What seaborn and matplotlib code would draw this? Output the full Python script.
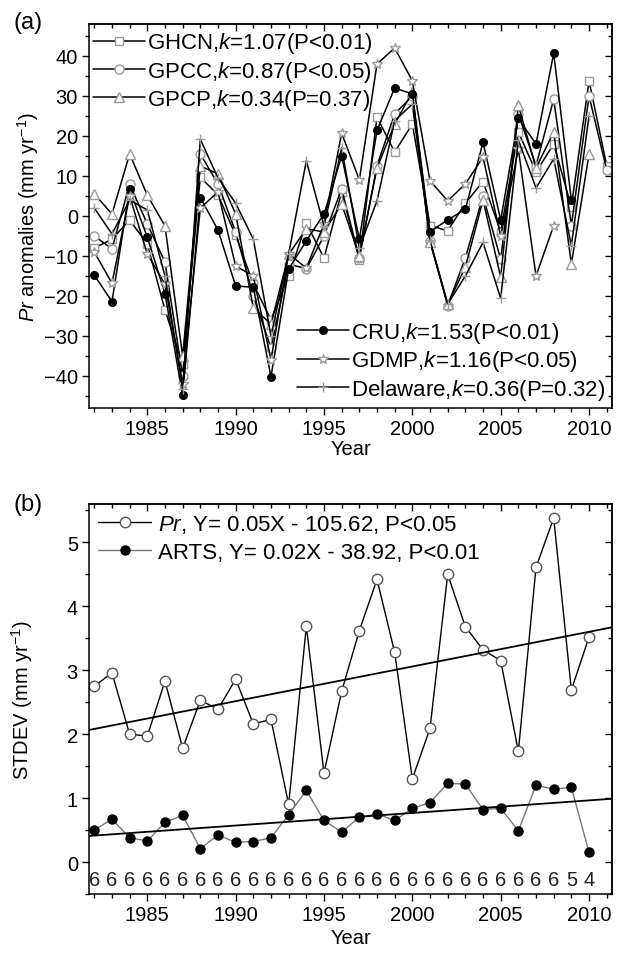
import numpy as np
import pandas as pd
import matplotlib
matplotlib.use("Agg")
import matplotlib.pyplot as plt
import seaborn as sns
from matplotlib.ticker import MultipleLocator, NullFormatter

nan = np.nan

# Panel (a): precipitation anomalies (mm/yr), 1982-2011
years_a = list(range(1982, 2012))
ghcn = [-8, -5.8, -1, -7, -23.5, -37, 9.7, 5.3, -4.8, -17, -26, -15, -1.8, -10.5, 6,
        -11, 24.7, 16, 23, -2.4, -3.7, 3.2, 8.6, -3.9, 21, 11, 18, 2.3, 33.8, 12.6]
gpcc = [-5, -8.2, 8, -2, -11.5, -40, 15.5, 8, -4, -20, -33, -12, -13.2, -5, 6.8,
        -10.5, 12.6, 25.5, 30, -6.2, -22.4, -10.5, 5, -10.8, 25.5, 12.6, 29.2, -2.4, 30, 11.5]
gpcp = [5.5, 0.5, 15.5, 5.2, -2.5, -35, 12.5, 10.5, 0.5, -23, -27, -9.6, -3.2, -4, 3,
        -10, 12, 23, 31, -6.5, -22, -12.8, 4, -15.3, 27.7, 12, 21, -12, 15.5, nan]
cru = [-14.8, -21.4, 6.7, -5.3, -19.4, -44.8, 4.6, -3.5, -17.5, -17.8, -40.2, -13.3, -6.2, 0.5, 15,
       -5.8, 21.4, 32, 30.5, -3.9, -1, 1.7, 18.4, -1, 24.4, 18, 40.7, 4, nan, nan]
gdmp = [-9, -16.8, 5, -9.5, -17, -42, 2, 6, -12.5, -15, -36, -9.5, -13, -2, 20.7,
        9, 38, 42, 33.8, 8.8, 3.8, 8, 14.7, -5, 16.7, -15, -2.4, nan, nan, nan]
delaware = [2, -4.5, 4, 1.5, -15, -43.3, 19.2, 9.5, 3.2, -5.8, -30, -9.5, 13.8, -2.5, 17,
            -8, 3.8, 23.8, 28, -6, -22, -15, -6.6, -20.6, 19, 7, 14.3, -7.4, 25, nan]

labels_a = ["GHCN,$k$=1.07(P<0.01)", "GPCC,$k$=0.87(P<0.05)", "GPCP,$k$=0.34(P=0.37)",
            "CRU,$k$=1.53(P<0.01)", "GDMP,$k$=1.16(P<0.05)", "Delaware,$k$=0.36(P=0.32)"]

# Panel (b): inter-dataset STDEV, 1982-2010
years_b = list(range(1982, 2011))
pr_std = [2.75, 2.96, 2.0, 1.97, 2.83, 1.78, 2.53, 2.39, 2.86, 2.16, 2.23, 0.9, 3.69, 1.39, 2.67,
          3.62, 4.42, 3.28, 1.30, 2.09, 4.50, 3.68, 3.32, 3.15, 1.73, 4.61, 5.38, 2.69, 3.52]
arts_std = [0.5, 0.67, 0.38, 0.33, 0.62, 0.73, 0.21, 0.42, 0.31, 0.32, 0.38, 0.74, 1.12, 0.65, 0.47,
            0.70, 0.75, 0.65, 0.84, 0.93, 1.23, 1.22, 0.82, 0.84, 0.49, 1.20, 1.14, 1.17, 0.15]
n_sets = [6, 6, 6, 6, 6, 6, 6, 6, 6, 6, 6, 6, 6, 6, 6,
          6, 6, 6, 6, 6, 6, 6, 6, 6, 6, 6, 6, 5, 4]
labels_b = ["$Pr$, Y= 0.05X - 105.62, P<0.05", "ARTS, Y= 0.02X - 38.92, P<0.01"]

sns.set_theme(style="ticks")
plt.rcParams["font.family"] = ["Liberation Sans", "DejaVu Sans"]
plt.rcParams["mathtext.fontset"] = "custom"
plt.rcParams["mathtext.rm"] = "Liberation Sans"
plt.rcParams["mathtext.it"] = "Liberation Sans:italic"
plt.rcParams["axes.linewidth"] = 1.1
for key in ["text.color", "axes.labelcolor", "xtick.color", "ytick.color", "axes.edgecolor"]:
    plt.rcParams[key] = "black"

FS = 14.5   # ticks / axis labels
LFS = 16    # legends

fig = plt.figure(figsize=(6.26, 9.54), dpi=100)
ax1 = fig.add_axes([89 / 626, 1 - 409 / 954, 523 / 626, 384 / 954])
ax2 = fig.add_axes([89 / 626, 1 - 895 / 954, 523 / 626, 390 / 954])

GRAY = "#9a9a9a"


def style_axes(ax, ymaj, ymin):
    ax.xaxis.set_major_locator(MultipleLocator(5))
    ax.xaxis.set_minor_locator(MultipleLocator(1))
    ax.yaxis.set_major_locator(MultipleLocator(ymaj))
    ax.yaxis.set_minor_locator(MultipleLocator(ymin))
    ax.tick_params(which="both", direction="out", width=1, colors="black", labelsize=FS)
    ax.tick_params(which="major", length=5, pad=3)
    ax.tick_params(which="minor", length=3)
    top = ax.secondary_xaxis("top")
    top.xaxis.set_major_locator(MultipleLocator(5))
    top.xaxis.set_minor_locator(MultipleLocator(1))
    top.xaxis.set_major_formatter(NullFormatter())
    top.tick_params(which="both", direction="in", width=1)
    top.tick_params(which="major", length=5)
    top.tick_params(which="minor", length=3)
    right = ax.secondary_yaxis("right")
    right.yaxis.set_major_locator(MultipleLocator(ymaj))
    right.yaxis.set_minor_locator(MultipleLocator(ymin))
    right.yaxis.set_major_formatter(NullFormatter())
    right.tick_params(which="both", direction="in", width=1)
    right.tick_params(which="major", length=5)
    right.tick_params(which="minor", length=3)
    for s in ax.spines.values():
        s.set_visible(True)
        s.set_color("black")


# ---- panel (a)
series_a = [ghcn, gpcc, gpcp, cru, gdmp, delaware]
styles_a = [
    dict(marker="s", markersize=6, markerfacecolor="white", markeredgecolor=GRAY),
    dict(marker="o", markersize=6.5, markerfacecolor="white", markeredgecolor=GRAY),
    dict(marker="^", markersize=7.5, markerfacecolor="white", markeredgecolor=GRAY),
    dict(marker="o", markersize=5.5, markerfacecolor="black", markeredgecolor="black"),
    dict(marker="*", markersize=7, markerfacecolor="white", markeredgecolor=GRAY),
    dict(marker="+", markersize=7, markerfacecolor="none", markeredgecolor=GRAY),
]
for vals, lab, st in zip(series_a, labels_a, styles_a):
    df = pd.DataFrame({"year": years_a, "val": vals}).dropna()
    sns.lineplot(data=df, x="year", y="val", ax=ax1, color="black", linewidth=1.1,
                 label=lab, markeredgewidth=1, **st)

ax1.set_xlim(1981.7, 2011.3)
ax1.set_ylim(-48, 48)
style_axes(ax1, 10, 5)
ax1.set_xlabel("Year", fontsize=FS, labelpad=1)
ax1.set_ylabel("$Pr$ anomalies (mm yr$^{-1}$)", fontsize=FS, labelpad=2)

leg_kw = dict(frameon=False, fontsize=LFS, handlelength=2.3, handletextpad=0.1,
              labelspacing=0.15, borderaxespad=0.0, borderpad=0.2)
h, l = ax1.get_legend_handles_labels()
leg1 = ax1.legend(h[:3], l[:3], loc="upper left", bbox_to_anchor=(0.0, 0.995), **leg_kw)
ax1.add_artist(leg1)
ax1.legend(h[3:], l[3:], loc="lower right", bbox_to_anchor=(0.995, 0.005), **leg_kw)

# ---- panel (b)
ax2.set_xlim(1981.7, 2011.3)
ax2.set_ylim(-0.5, 5.6)
dfb = pd.DataFrame({"year": years_b, "pr": pr_std, "arts": arts_std})
sns.lineplot(data=dfb, x="year", y="pr", ax=ax2, color="black", linewidth=1,
             marker="o", markersize=7.5, markerfacecolor="white", markeredgecolor="#555555",
             markeredgewidth=1, label=labels_b[0])
sns.lineplot(data=dfb, x="year", y="arts", ax=ax2, color="#777777", linewidth=1,
             marker="o", markersize=6.5, markerfacecolor="black", markeredgecolor="black",
             markeredgewidth=1, label=labels_b[1])
sns.regplot(data=dfb, x="year", y="pr", ax=ax2, scatter=False, ci=None, truncate=False,
            line_kws=dict(color="black", linewidth=1.3))
sns.regplot(data=dfb, x="year", y="arts", ax=ax2, scatter=False, ci=None, truncate=False,
            line_kws=dict(color="black", linewidth=1.3))
for yr, n in zip(years_b, n_sets):
    ax2.text(yr, -0.27, str(n), ha="center", va="center", fontsize=FS, color="#222222")

ax2.set_xlim(1981.7, 2011.3)
ax2.set_ylim(-0.5, 5.6)
style_axes(ax2, 1, 0.5)
ax2.set_xlabel("Year", fontsize=FS, labelpad=3)
ax2.set_ylabel("STDEV (mm yr$^{-1}$)", fontsize=FS, labelpad=23)
hb, lb = ax2.get_legend_handles_labels()
ax2.legend(hb[:2], lb[:2], loc="upper left", bbox_to_anchor=(0.0, 1.0), frameon=False,
           fontsize=LFS, handlelength=2.4, handletextpad=0.3, labelspacing=0.3,
           borderaxespad=0.2, borderpad=0.2)

fig.text(28 / 626, 1 - 23 / 954, "(a)", fontsize=17, ha="center", va="center")
fig.text(28 / 626, 1 - 505 / 954, "(b)", fontsize=17, ha="center", va="center")

fig.savefig("out.png", dpi=100)
